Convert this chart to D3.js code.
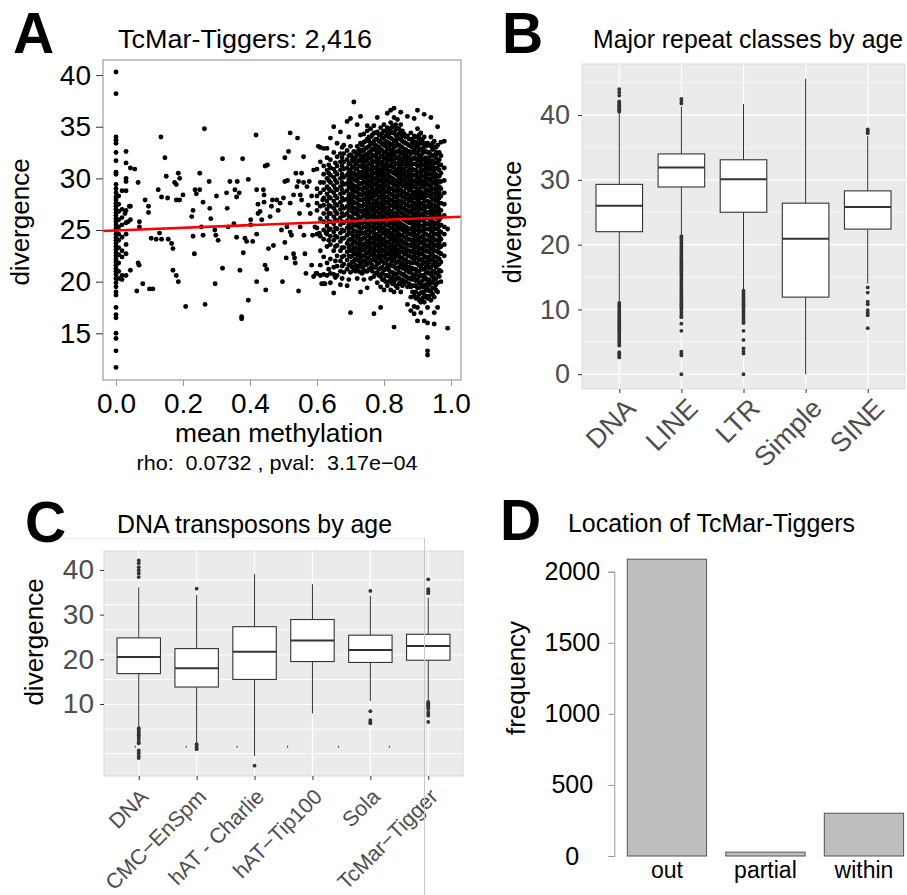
<!DOCTYPE html>
<html><head><meta charset="utf-8">
<script src="https://cdn.jsdelivr.net/npm/d3@7"></script>
<style>
body{margin:0;background:#fff}
svg text{font-family:"Liberation Sans",Arial,Helvetica,sans-serif}
</style>
</head><body>
<svg id="fig" width="907" height="895"></svg>
<script>
// ---------------- Panel A data: TcMar-Tiggers, mean methylation vs divergence ----------------
const aXTicks = [0, 0.2, 0.4, 0.6, 0.8, 1.0];
const aYTicks = [15, 20, 25, 30, 35, 40];
const aFit = [24.95, 1.3]; // intercept, slope of red regression line
// columns of points: [methylation, [divergence values]]
const aColumns = [
 [0.0,[40.3,38.2,34.0,33.7,33.4,32.5,31.7,30.6,30.4,29.4,29.0,28.6,28.2,27.9,27.6,27.3,27.0,26.7,26.4,26.1,25.8,25.5,25.2,24.9,24.6,24.3,24.0,23.7,23.4,23.1,22.8,22.5,22.2,21.9,21.6,21.3,21.0,20.7,20.3,19.9,19.5,19.0,18.7,17.5,16.8,16.5,15.0,14.5,13.3,11.7]],
 [0.008,[28.3,27.5,26.8,26.0,25.3,24.6,24.0,23.3,22.6,21.8,21.0,20.3]],
 [0.018,[28.8,27.0,26.2,25.5,24.3,23.0,22.4,20.6,20.2]],
 [0.03,[32.6,31.5,30.0,29.7,28.8,26.9,25.7,24.6,23.6,22.7,20.6]],
 [0.043,[31.0,27.3,26.0,21.1]],
 [0.60,[20.8,24.6,25.2,26.9,27.6,28.3,29.0,30.9]],
 [0.61,[20.6,21.6,23.0,24.4,26.1,27.3,28.6,29.6,31.6,33.0]],
 [0.62,[19.8,20.7,22.4,24.1,25.0,25.8,26.6,27.4,28.1,28.9,29.6,30.4,31.2,32.9]],
 [0.63,[20.6,21.8,23.4,24.6,25.4,26.2,27.0,27.8,28.5,29.2,30.0,30.8,32.0]],
 [0.635,[21.2,24.0,25.0,25.8,26.6,27.4,28.2,29.0,29.8,30.5,31.3]],
 [0.64,[19.9,20.8,22.2,23.6,24.4,25.1,25.8,26.6,27.3,28.1,28.8,29.6,30.3,31.0,31.8,33.9]],
 [0.65,[18.9,20.7,21.4,23.0,24.0,24.8,25.6,26.3,27.1,27.8,28.6,29.3,30.1,30.9,32.5,35.0]],
 [0.655,[20.4,22.0,23.4,24.4,25.2,26.0,26.8,27.5,28.3,29.0,29.8,30.6,31.5]],
 [0.66,[20.6,21.5,22.5,23.5,24.3,25.1,25.9,26.6,27.4,28.1,28.9,29.6,30.4,31.2,32.1,33.4]],
 [0.67,[19.7,21.0,22.0,23.0,23.9,24.7,25.5,26.2,27.0,27.7,28.5,29.2,30.0,30.8,31.6,32.4,34.5]],
 [0.675,[20.3,21.5,22.4,23.3,24.2,25.0,25.8,26.6,27.3,28.1,28.9,29.6,30.4,31.2,32.0,33.0]],
 [0.68,[20.9,21.7,22.5,23.3,24.2,24.9,25.7,26.4,27.1,27.9,28.6,29.4,30.1,30.9,31.6,32.4,33.2]],
 [0.69,[19.6,21.2,22.1,22.9,23.7,24.5,25.2,25.9,26.6,27.3,28.0,28.8,29.5,30.3,31.0,31.8,32.7,35.5]],
 [0.695,[20.2,21.6,22.5,23.3,24.0,24.8,25.5,26.3,27.0,27.7,28.4,29.2,29.9,30.6,31.4,32.2,34.0]],
 [0.70,[17.0,20.9,21.7,22.4,23.0,23.5,24.1,24.7,25.2,25.8,26.3,26.9,27.4,28.0,28.5,29.1,29.6,30.2,30.8,31.5,32.3,33.1,35.8]],
 [0.705,[21.4,21.9,22.5,23.0,23.6,24.1,24.6,25.2,25.7,26.2,26.8,27.3,27.8,28.4,28.9,29.4,30.0,30.5,31.1,31.7,32.1]],
 [0.71,[21.1,22.0,22.7,23.2,23.8,24.4,24.9,25.5,26.0,26.6,27.1,27.7,28.2,28.8,29.3,29.9,30.5,31.1,31.8,32.6,37.4]],
 [0.715,[21.0,21.6,22.2,22.8,23.3,23.9,24.4,24.9,25.5,26.0,26.6,27.1,27.6,28.2,28.7,29.2,29.8,30.3,30.9,31.4,32.0,32.5]],
 [0.72,[20.3,21.3,22.1,22.6,23.2,23.7,24.3,24.8,25.4,25.9,26.5,27.0,27.6,28.1,28.7,29.2,29.8,30.3,30.9,31.6,32.3,33.1,35.2]],
 [0.725,[21.0,21.5,22.0,22.6,23.1,23.7,24.2,24.7,25.3,25.8,26.3,26.9,27.4,27.9,28.5,29.0,29.5,30.1,30.6,31.2,31.7,32.3,32.8]],
 [0.73,[19.0,20.9,21.7,22.3,22.9,23.4,24.0,24.6,25.1,25.7,26.2,26.8,27.3,27.9,28.4,29.0,29.5,30.1,30.6,31.2,31.9,32.6,33.4,34.2,36.0]],
 [0.735,[20.8,21.4,22.0,22.5,23.1,23.6,24.1,24.7,25.2,25.7,26.3,26.8,27.3,27.9,28.4,28.9,29.5,30.0,30.5,31.1,31.6,32.2,32.7,33.2]],
 [0.74,[20.2,21.1,21.9,22.5,23.1,23.6,24.2,24.7,25.3,25.8,26.4,26.9,27.5,28.0,28.6,29.1,29.7,30.2,30.8,31.4,32.0,32.7,33.5,34.3]],
 [0.745,[21.0,21.6,22.1,22.7,23.2,23.7,24.3,24.8,25.3,25.9,26.4,26.9,27.5,28.0,28.5,29.1,29.6,30.1,30.7,31.2,31.8,32.3,32.9,33.6]],
 [0.75,[19.4,21.0,21.7,22.3,22.8,23.4,23.9,24.5,25.0,25.6,26.1,26.7,27.2,27.8,28.3,28.9,29.4,30.0,30.5,31.1,31.7,32.3,33.0,33.8,34.6,35.1]],
 [0.755,[21.2,21.8,22.3,22.9,23.4,23.9,24.5,25.0,25.5,26.1,26.6,27.1,27.7,28.2,28.7,29.3,29.8,30.3,30.9,31.4,32.0,32.5,33.1,33.6,34.0]],
 [0.76,[20.3,21.3,22.0,22.6,23.1,23.7,24.2,24.8,25.3,25.9,26.4,27.0,27.5,28.1,28.6,29.2,29.7,30.3,30.8,31.4,32.0,32.6,33.3,34.0,34.8]],
 [0.765,[21.0,21.6,22.1,22.6,23.2,23.7,24.2,24.8,25.3,25.8,26.4,26.9,27.4,28.0,28.5,29.0,29.6,30.1,30.6,31.2,31.7,32.3,32.8,33.4,34.2]],
 [0.77,[16.9,20.5,21.4,22.2,22.8,23.3,23.9,24.4,25.0,25.5,26.1,26.6,27.2,27.7,28.3,28.8,29.4,29.9,30.5,31.0,31.6,32.2,32.9,33.6,34.4,35.1]],
 [0.775,[20.8,21.4,22.0,22.5,23.0,23.6,24.1,24.6,25.2,25.7,26.2,26.8,27.3,27.8,28.4,28.9,29.4,30.0,30.5,31.0,31.6,32.1,32.7,33.2,33.8,34.4]],
 [0.78,[19.9,20.9,21.7,22.4,23.0,23.5,24.1,24.6,25.2,25.7,26.3,26.8,27.4,27.9,28.5,29.0,29.6,30.1,30.7,31.2,31.8,32.4,33.1,33.8,34.5,35.9]],
 [0.785,[20.6,21.2,21.8,22.3,22.8,23.4,23.9,24.4,25.0,25.5,26.0,26.6,27.1,27.6,28.2,28.7,29.2,29.8,30.3,30.8,31.4,31.9,32.5,33.0,33.6,34.2]],
 [0.79,[17.5,19.5,20.5,21.3,22.1,22.7,23.2,23.8,24.3,24.9,25.4,26.0,26.5,27.1,27.6,28.2,28.7,29.3,29.8,30.4,30.9,31.5,32.1,32.8,33.5,34.2,34.9]],
 [0.795,[20.2,20.8,21.4,22.0,22.5,23.1,23.6,24.1,24.7,25.2,25.7,26.3,26.8,27.3,27.9,28.4,28.9,29.5,30.0,30.5,31.1,31.6,32.2,32.7,33.3,33.9,34.4]],
 [0.80,[19.2,20.2,21.1,21.8,22.5,23.0,23.6,24.1,24.7,25.2,25.8,26.3,26.9,27.4,28.0,28.5,29.1,29.6,30.2,30.7,31.3,31.9,32.5,33.2,33.9,34.6,35.2]],
 [0.805,[20.0,20.6,21.2,21.8,22.3,22.9,23.4,23.9,24.5,25.0,25.5,26.1,26.6,27.1,27.7,28.2,28.7,29.3,29.8,30.3,30.9,31.4,32.0,32.5,33.1,33.6,34.1,34.6]],
 [0.81,[19.6,20.6,21.4,22.1,22.7,23.3,23.8,24.4,24.9,25.5,26.0,26.6,27.1,27.7,28.2,28.8,29.3,29.9,30.4,31.0,31.6,32.2,32.8,33.5,34.2,34.9,36.3]],
 [0.815,[20.0,20.5,21.1,21.6,22.2,22.7,23.2,23.8,24.3,24.8,25.4,25.9,26.4,27.0,27.5,28.0,28.6,29.1,29.6,30.2,30.7,31.2,31.8,32.3,32.9,33.4,34.0,34.4,34.8]],
 [0.82,[19.2,20.1,20.9,21.7,22.4,23.0,23.5,24.1,24.6,25.2,25.7,26.3,26.8,27.4,27.9,28.5,29.0,29.6,30.1,30.7,31.3,31.9,32.5,33.2,33.9,34.6,35.4,36.6]],
 [0.825,[19.8,20.4,20.9,21.5,22.0,22.6,23.1,23.6,24.2,24.7,25.2,25.8,26.3,26.8,27.4,27.9,28.4,29.0,29.5,30.0,30.6,31.1,31.6,32.2,32.7,33.3,33.8,34.4,35.0]],
 [0.83,[15.6,19.0,20.0,20.8,21.5,22.2,22.8,23.3,23.9,24.4,25.0,25.5,26.1,26.6,27.2,27.7,28.3,28.8,29.4,29.9,30.5,31.1,31.7,32.3,33.0,33.7,34.4,35.1,35.9,36.8]],
 [0.835,[19.6,20.2,20.7,21.3,21.8,22.4,22.9,23.4,24.0,24.5,25.0,25.6,26.1,26.6,27.2,27.7,28.2,28.8,29.3,29.8,30.4,30.9,31.4,32.0,32.5,33.1,33.6,34.2,34.7,35.2]],
 [0.84,[19.4,20.4,21.2,21.9,22.6,23.1,23.7,24.2,24.8,25.3,25.9,26.4,27.0,27.5,28.1,28.6,29.2,29.7,30.3,30.8,31.4,32.0,32.6,33.3,34.0,34.8,35.7]],
 [0.845,[19.8,20.3,20.9,21.4,22.0,22.5,23.0,23.6,24.1,24.6,25.2,25.7,26.2,26.8,27.3,27.8,28.4,28.9,29.4,30.0,30.5,31.0,31.6,32.1,32.7,33.2,33.8,34.3,34.8]],
 [0.85,[19.0,19.9,20.8,21.6,22.3,22.9,23.4,24.0,24.5,25.1,25.6,26.2,26.7,27.3,27.8,28.4,28.9,29.5,30.0,30.6,31.2,31.8,32.4,33.1,33.8,34.5,35.2,36.4]],
 [0.855,[19.6,20.2,20.7,21.3,21.8,22.3,22.9,23.4,23.9,24.5,25.0,25.5,26.1,26.6,27.1,27.7,28.2,28.7,29.3,29.8,30.3,30.9,31.4,31.9,32.5,33.0,33.6,34.1,34.6]],
 [0.86,[19.8,20.7,21.5,22.1,22.7,23.2,23.8,24.3,24.9,25.4,26.0,26.5,27.1,27.6,28.2,28.7,29.3,29.8,30.4,30.9,31.5,32.1,32.8,33.5,34.3]],
 [0.865,[20.0,20.5,21.1,21.6,22.1,22.7,23.2,23.7,24.3,24.8,25.3,25.9,26.4,26.9,27.5,28.0,28.5,29.1,29.6,30.1,30.7,31.2,31.7,32.3,32.8,33.4,34.0]],
 [0.87,[17.8,19.5,20.4,21.2,21.9,22.5,23.0,23.6,24.1,24.7,25.2,25.8,26.3,26.9,27.4,28.0,28.5,29.1,29.6,30.2,30.7,31.3,31.9,32.6,33.3,34.1,36.0]],
 [0.875,[19.8,20.3,20.9,21.4,21.9,22.5,23.0,23.5,24.1,24.6,25.1,25.7,26.2,26.7,27.3,27.8,28.3,28.9,29.4,29.9,30.5,31.0,31.5,32.1,32.6,33.2,33.8]],
 [0.88,[17.2,18.5,19.5,20.3,21.1,21.8,22.4,22.9,23.5,24.0,24.6,25.1,25.7,26.2,26.8,27.3,27.9,28.4,29.0,29.5,30.1,30.6,31.2,31.8,32.4,33.1,33.8,34.4]],
 [0.885,[19.0,19.6,20.2,20.7,21.3,21.8,22.3,22.9,23.4,23.9,24.5,25.0,25.5,26.1,26.6,27.1,27.7,28.2,28.7,29.3,29.8,30.3,30.9,31.4,31.9,32.5,33.0,33.5,33.8]],
 [0.89,[16.9,17.6,18.6,19.6,20.4,21.2,21.9,22.6,23.1,23.7,24.2,24.8,25.3,25.9,26.4,27.0,27.5,28.1,28.6,29.2,29.7,30.3,30.8,31.4,32.0,32.7,33.4,34.1,35.8]],
 [0.895,[18.4,19.0,19.6,20.1,20.7,21.2,21.8,22.3,22.8,23.4,23.9,24.4,25.0,25.5,26.0,26.6,27.1,27.6,28.2,28.7,29.2,29.8,30.3,30.8,31.4,31.9,32.4,33.0,33.5,34.0]],
 [0.90,[16.2,17.5,18.5,19.4,20.2,21.0,21.7,22.3,22.9,23.4,24.0,24.5,25.1,25.6,26.2,26.7,27.3,27.8,28.4,28.9,29.5,30.0,30.6,31.2,31.8,32.5,33.2,34.0,34.8,36.6]],
 [0.905,[18.2,18.8,19.4,19.9,20.5,21.0,21.6,22.1,22.6,23.2,23.7,24.2,24.8,25.3,25.8,26.4,26.9,27.4,28.0,28.5,29.0,29.6,30.1,30.6,31.2,31.7,32.2,32.8,33.3,33.8,34.2]],
 [0.91,[17.0,18.0,18.9,19.8,20.6,21.4,22.1,22.7,23.2,23.8,24.3,24.9,25.4,26.0,26.5,27.1,27.6,28.2,28.7,29.3,29.8,30.4,30.9,31.5,32.1,32.8,33.6,34.4]],
 [0.915,[18.4,19.0,19.5,20.1,20.6,21.2,21.7,22.2,22.8,23.3,23.8,24.4,24.9,25.4,26.0,26.5,27.0,27.6,28.1,28.6,29.2,29.7,30.2,30.8,31.3,31.8,32.4,32.9,33.4,33.8]],
 [0.92,[16.2,18.0,18.8,19.6,20.4,21.2,21.9,22.5,23.0,23.6,24.1,24.7,25.2,25.8,26.3,26.9,27.4,28.0,28.5,29.1,29.6,30.2,30.7,31.3,31.9,32.6,33.3,34.0,36.2]],
 [0.925,[18.6,19.2,19.7,20.3,20.8,21.4,21.9,22.4,23.0,23.5,24.0,24.6,25.1,25.6,26.2,26.7,27.2,27.8,28.3,28.8,29.4,29.9,30.4,31.0,31.5,32.0,32.6,33.1,33.4]],
 [0.93,[12.9,13.3,14.6,16.0,17.5,18.4,19.3,20.1,20.9,21.6,22.3,22.9,23.4,24.0,24.5,25.1,25.6,26.2,26.7,27.3,27.8,28.4,28.9,29.5,30.0,30.6,31.2,31.8,32.5,33.4]],
 [0.935,[18.6,19.1,19.7,20.2,20.8,21.3,21.9,22.4,22.9,23.5,24.0,24.5,25.1,25.6,26.1,26.7,27.2,27.7,28.3,28.8,29.3,29.9,30.4,30.9,31.5,32.0,32.5,33.2]],
 [0.94,[18.2,19.1,19.9,20.7,21.4,22.1,22.7,23.2,23.8,24.3,24.9,25.4,26.0,26.5,27.1,27.6,28.2,28.7,29.3,29.8,30.4,31.0,31.6,32.3,33.1,34.0,35.9]],
 [0.945,[18.8,19.4,19.9,20.5,21.0,21.6,22.1,22.6,23.2,23.7,24.2,24.8,25.3,25.8,26.4,26.9,27.4,28.0,28.5,29.0,29.6,30.1,30.6,31.2,31.7,32.2,32.8,33.4]],
 [0.95,[15.9,17.0,18.5,19.4,20.2,21.0,21.7,22.4,23.0,23.5,24.1,24.6,25.2,25.7,26.3,26.8,27.4,27.9,28.5,29.0,29.6,30.2,30.8,31.5,32.2,33.0,33.6]],
 [0.955,[19.2,19.7,20.3,20.8,21.4,21.9,22.4,23.0,23.5,24.0,24.6,25.1,25.6,26.2,26.7,27.2,27.8,28.3,28.8,29.4,29.9,30.4,31.0,31.5,32.0,32.5,33.0]],
 [0.96,[17.5,19.0,19.9,20.8,21.6,22.3,22.9,23.5,24.0,24.6,25.1,25.7,26.2,26.8,27.3,27.9,28.4,29.0,29.6,30.2,30.9,31.6,32.4,33.2,35.0]],
 [0.965,[20.5,21.1,21.7,22.2,22.8,23.3,23.8,24.4,24.9,25.4,26.0,26.5,27.0,27.6,28.1,28.6,29.2,29.7,30.2,30.8,31.3,31.8,32.5]],
 [0.97,[20.0,21.0,21.9,22.7,23.4,24.1,24.8,25.5,26.2,26.9,27.6,28.3,29.0,29.7,30.5,31.3,32.2,33.5]],
 [0.98,[22.5,23.6,24.6,25.3,26.4,27.5,28.6,29.8,31.0,33.6]],
 [0.99,[15.5,25.1]]
];
// individual scattered points: [methylation, divergence]
const aSparse = [
 [.056,30.9],[.066,29.6],[.04,27.3],[.027,26.6],[.036,25.8],[.07,25.8],[.07,25.3],[.066,21.8],[.069,21.6],[.062,19.1],
 [.08,19.8],[.087,27.9],[.097,27.3],[.097,26.7],[.10,19.3],[.11,19.3],[.105,24.2],[.12,24.1],[.126,28.9],[.134,34.0],
 [.136,28.2],[.13,24.7],[.136,24.1],[.146,32.0],[.15,30.2],[.154,28.1],[.156,24.1],[.166,23.7],[.17,23.2],[.17,21.1],
 [.18,20.6],[.186,20.0],[.175,29.6],[.18,29.4],[.186,30.5],[.19,30.0],[.18,27.9],[.19,27.9],[.20,28.4],[.208,17.6],
 [.226,26.3],[.23,24.4],[.234,22.7],[.23,26.9],[.236,28.9],[.24,28.5],[.25,28.9],[.25,30.5],[.26,27.7],[.255,25.3],
 [.26,24.5],[.264,34.8],[.266,17.8],[.278,29.7],[.28,27.1],[.283,26.1],[.295,25.0],[.298,24.5],[.296,19.8],[.305,24.0],
 [.30,28.3],[.318,31.9],[.318,21.3],[.33,28.6],[.332,27.1],[.34,29.7],[.335,25.3],[.352,25.6],[.355,28.9],[.36,28.2],
 [.362,29.7],[.368,28.6],[.36,24.3],[.37,21.1],[.375,16.6],[.375,16.4],[.378,31.9],[.38,22.8],[.385,24.2],[.39,23.9],
 [.395,29.9],[.395,18.2],[.402,26.0],[.402,25.5],[.408,23.9],[.418,34.2],[.42,20.0],[.42,28.9],[.424,27.5],[.424,26.6],
 [.42,24.6],[.43,26.8],[.435,26.0],[.44,28.9],[.442,28.4],[.442,27.7],[.445,31.2],[.45,21.2],[.445,21.6],[.447,19.2],
 [.452,31.3],[.455,23.2],[.46,26.3],[.464,27.3],[.467,27.9],[.47,23.5],[.48,27.9],[.484,26.9],[.49,27.6],[.494,25.0],
 [.497,20.0],[.50,28.1],[.504,29.7],[.504,23.8],[.508,22.3],[.504,32.0],[.51,25.3],[.512,29.8],[.515,32.6],[.52,34.4],
 [.52,27.6],[.52,24.8],[.524,24.5],[.53,28.4],[.53,22.7],[.533,22.3],[.535,21.8],[.537,30.5],[.54,29.2],[.542,33.9],
 [.545,19.1],[.545,29.7],[.548,26.6],[.55,28.4],[.55,25.3],[.554,30.5],[.554,27.9],[.56,32.1],[.56,29.6],[.561,24.5],
 [.564,22.7],[.567,20.8],[.57,29.2],[.574,27.4],[.577,29.7],[.58,26.6],[.584,28.3],[.584,21.6],[.587,24.5],[.59,30.8],
 [.59,20.5],[.594,25.3],[.597,20.8],[.604,33.1],[.607,24.7],[.614,19.8],[.617,27.9],[.624,19.8],[.627,24.7],[.63,32.9]
];

// ---------------- Panel B data: major repeat classes ----------------
const bCats = ["DNA", "LINE", "LTR", "Simple", "SINE"];
const bQ1  = [22.0, 28.9, 25.0, 11.9, 22.4];
const bMed = [26.0, 31.9, 30.1, 20.9, 25.8];
const bQ3  = [29.3, 34.0, 33.1, 26.4, 28.3];
const bLo  = [11.2, 21.6, 13.1, 0.0, 14.0];
const bHi  = [40.2, 41.3, 41.7, 45.6, 36.8];
const bOut = [
 [40.5,40.7,40.9,41.1,41.3,41.5,41.7,41.9,42.1,43.0,43.5,44.0,
  11.0,10.7,10.4,10.1,9.8,9.5,9.2,8.9,8.6,8.3,8.0,7.7,7.4,7.1,6.8,6.5,6.2,5.9,5.6,5.3,5.0,4.7,4.4,3.4,3.1,2.8,2.6],
 [41.8,42.2,42.5,
  21.3,21.0,20.7,20.4,20.1,19.8,19.5,19.2,18.9,18.6,18.3,18.0,17.7,17.4,17.1,16.8,16.5,16.2,15.9,15.6,15.3,15.0,14.7,14.4,
  14.1,13.8,13.5,13.2,12.9,12.6,12.3,12.0,11.7,11.4,11.1,10.8,10.5,10.2,9.9,9.6,9.3,9.0,8.8,7.8,6.7,3.5,3.2,2.9,0.0],
 [12.9,12.6,12.3,12.0,11.7,11.4,11.1,10.8,10.5,10.2,9.9,9.6,9.3,9.0,8.7,8.4,8.1,7.9,6.7,5.3,4.0,3.6,3.2,0.0],
 [],
 [37.2,37.5,37.8,13.4,12.6,11.2,10.8,9.9,9.5,9.1,7.1]
];
const bYTicks = [0, 10, 20, 30, 40];
const bYMinor = [5, 15, 25, 35, 45];

// ---------------- Panel C data: DNA transposons ----------------
const cCats = ["DNA", "CMC\u2212EnSpm", "hAT - Charlie", "hAT\u2212Tip100", "Sola", "TcMar\u2212Tigger"];
const cQ1  = [16.8, 13.8, 15.5, 19.5, 19.3, 19.8];
const cMed = [20.5, 18.0, 21.7, 24.2, 22.1, 23.0];
const cQ3  = [24.8, 22.4, 27.3, 28.9, 25.4, 25.6];
const cLo  = [4.9, 1.2, -1.6, 7.9, 10.7, 10.9];
const cHi  = [36.1, 34.4, 39.1, 36.8, 34.2, 33.8];
const cOut = [
 [42.1,41.5,40.6,39.9,39.2,38.4,4.6,4.2,3.8,3.4,3.0,2.6,2.2,1.6,1.2,-0.4,-1.0,-1.6,-2.1],
 [35.8,1.0,0.6,0.2,-0.1],
 [-3.8],
 [],
 [35.3,8.4,6.4,6.0,5.7],
 [37.9,35.7,35.2,34.8,10.5,10.2,9.9,9.6,9.3,8.9,8.2,7.8,7.4,6.0]
];
const cYTicks = [10, 20, 30, 40];
const cGrid = [37.7, 32.2, 26.6, 21.0, 15.5, 9.9, 4.4, -1.1];
const cStray = [-0.06, 0.82, 1.70, 2.57, 3.45, 4.33]; // tiny marks at category-index positions
const cStrayY = 0.45;

// ---------------- Panel D data: location of TcMar-Tiggers ----------------
const dCats = ["out", "partial", "within"];
const dVals = [2088, 27, 301];
const dYTicks = [0, 500, 1000, 1500, 2000];

// =====================================================================
const svg = d3.select("#fig");
const BOXC = "#333333";

function panelLetter(t, x, y) {
  svg.append("text").attr("x", x).attr("y", y).text(t)
    .attr("font-size", 57).attr("font-weight", "bold").attr("fill", "#000");
}
function txt(t, x, y, size, opts = {}) {
  const e = svg.append("text").attr("x", x).attr("y", y).text(t)
    .attr("font-size", size).attr("fill", opts.fill || "#000")
    .attr("text-anchor", opts.anchor || "start");
  if (opts.len) e.attr("textLength", opts.len).attr("lengthAdjust", "spacingAndGlyphs");
  if (opts.rot) e.attr("transform", `rotate(${opts.rot},${x},${y})`);
  if (opts.pre) e.attr("xml:space", "preserve").style("white-space", "pre");
  return e;
}

// ---------------- Panel A ----------------
{
  const x = d3.scaleLinear().domain([-0.0388, 1.0299]).range([103, 461]);
  const y = d3.scaleLinear().domain([10.48, 41.46]).range([380, 60]);
  const g = svg.append("g");
  const pts = [];
  aColumns.forEach(([m, ds]) => ds.forEach(d => pts.push([m, d])));
  aSparse.forEach(p => pts.push(p));
  g.selectAll("circle").data(pts).join("circle")
    .attr("cx", d => x(d[0])).attr("cy", d => y(d[1])).attr("r", 2.45).attr("fill", "#000");
  const [x0, x1] = x.domain();
  g.append("line").attr("x1", x(x0)).attr("x2", x(x1))
    .attr("y1", y(aFit[0] + aFit[1] * x0)).attr("y2", y(aFit[0] + aFit[1] * x1))
    .attr("stroke", "#ff0000").attr("stroke-width", 2.6);
  g.append("rect").attr("x", 103).attr("y", 60).attr("width", 358).attr("height", 320)
    .attr("fill", "none").attr("stroke", "#8a8a8a").attr("stroke-width", 1);
  const ya = g.append("g").attr("transform", "translate(103,0)")
    .call(d3.axisLeft(y).tickValues(aYTicks).tickSize(7).tickPadding(5));
  ya.select(".domain").remove();
  ya.selectAll("line").attr("stroke", "#333");
  ya.selectAll("text").attr("font-size", 28).attr("fill", "#000").attr("font-family", null);
  const xa = g.append("g").attr("transform", "translate(0,380)")
    .call(d3.axisBottom(x).tickValues(aXTicks).tickFormat(d3.format(".1f")).tickSize(6).tickPadding(7));
  xa.select(".domain").remove();
  xa.selectAll("line").attr("stroke", "#999");
  xa.selectAll("text").attr("font-size", 28).attr("fill", "#000").attr("font-family", null);
  panelLetter("A", 13, 53);
  txt("TcMar-Tiggers: 2,416", 245, 48, 26, {anchor: "middle", len: 254});
  txt("divergence", 29, 222, 26, {anchor: "middle", rot: -90});
  txt("mean methylation", 279, 442, 26, {anchor: "middle", len: 208});
  txt("rho:  0.0732 , pval:  3.17e\u221204", 277, 470, 21, {anchor: "middle", pre: true, len: 281});
}

// ---------------- Box plot helper ----------------
function drawBoxes(g, x, y, cats, q1, med, q3, lo, hi, outs) {
  const w = x.step() * 0.75;
  const rows = cats.map((c, i) => ({c, q1: q1[i], med: med[i], q3: q3[i], lo: lo[i], hi: hi[i], out: outs[i]}));
  const b = g.selectAll("g.box").data(rows).join("g").attr("class", "box");
  b.append("line").attr("x1", d => x(d.c)).attr("x2", d => x(d.c))
    .attr("y1", d => y(d.hi)).attr("y2", d => y(d.q3)).attr("stroke", BOXC).attr("stroke-width", 1);
  b.append("line").attr("x1", d => x(d.c)).attr("x2", d => x(d.c))
    .attr("y1", d => y(d.q1)).attr("y2", d => y(d.lo)).attr("stroke", BOXC).attr("stroke-width", 1);
  b.append("rect").attr("x", d => x(d.c) - w / 2).attr("y", d => y(d.q3))
    .attr("width", w).attr("height", d => y(d.q1) - y(d.q3))
    .attr("fill", "#fff").attr("stroke", BOXC).attr("stroke-width", 1.1);
  b.append("line").attr("x1", d => x(d.c) - w / 2).attr("x2", d => x(d.c) + w / 2)
    .attr("y1", d => y(d.med)).attr("y2", d => y(d.med)).attr("stroke", BOXC).attr("stroke-width", 2);
  b.selectAll("circle").data(d => d.out.map(v => ({c: d.c, v}))).join("circle")
    .attr("cx", d => x(d.c)).attr("cy", d => y(d.v)).attr("r", 1.9).attr("fill", BOXC);
}

// ---------------- Panel B ----------------
{
  const L = 582, R = 905, T = 64, B = 389;
  const x = d3.scalePoint().domain(bCats).range([L, R]).padding(0.6);
  const y = d3.scaleLinear().domain([-2.28, 47.88]).range([B, T]);
  const g = svg.append("g");
  g.append("rect").attr("x", L).attr("y", T).attr("width", R - L).attr("height", B - T)
    .attr("fill", "#ebebeb").attr("stroke", "#d6d6d6").attr("stroke-width", 0.8);
  g.selectAll("line.mi").data(bYMinor).join("line").attr("class", "mi")
    .attr("x1", L).attr("x2", R).attr("y1", d => y(d)).attr("y2", d => y(d))
    .attr("stroke", "#fff").attr("stroke-width", 0.6);
  g.selectAll("line.ma").data(bYTicks).join("line").attr("class", "ma")
    .attr("x1", L).attr("x2", R).attr("y1", d => y(d)).attr("y2", d => y(d))
    .attr("stroke", "#fff").attr("stroke-width", 1.2);
  g.selectAll("line.vx").data(bCats).join("line").attr("class", "vx")
    .attr("x1", d => x(d)).attr("x2", d => x(d)).attr("y1", T).attr("y2", B)
    .attr("stroke", "#fff").attr("stroke-width", 1.2);
  drawBoxes(g.append("g"), x, y, bCats, bQ1, bMed, bQ3, bLo, bHi, bOut);
  const ya = g.append("g").attr("transform", `translate(${L},0)`)
    .call(d3.axisLeft(y).tickValues(bYTicks).tickSize(4).tickPadding(8));
  ya.select(".domain").remove();
  ya.selectAll("line").attr("stroke", "#333");
  ya.selectAll("text").attr("font-size", 27).attr("fill", "#4d4d4d").attr("font-family", null);
  const xa = g.append("g").attr("transform", `translate(0,${B})`)
    .call(d3.axisBottom(x).tickSize(4).tickFormat(""));
  xa.select(".domain").remove();
  xa.selectAll("line").attr("stroke", "#333");
  bCats.forEach(c => txt(c, x(c) + 18, 410, 27, {anchor: "end", rot: -45, fill: "#4d4d4d"}));
  panelLetter("B", 502, 53);
  txt("Major repeat classes by age", 593, 48, 25, {len: 310});
  txt("divergence", 521, 222, 25, {anchor: "middle", rot: -90});
}

// ---------------- Panel C ----------------
{
  const L = 104, R = 463, T = 551, B = 776;
  svg.append("line").attr("x1", 62).attr("x2", 424).attr("y1", 538.5).attr("y2", 538.5)
    .attr("stroke", "#f0f0f0").attr("stroke-width", 1);
  const x = d3.scalePoint().domain(cCats).range([L, R]).padding(0.6);
  const y = d3.scaleLinear().domain([-6.1, 44.23]).range([B, T]);
  const g = svg.append("g");
  g.append("rect").attr("x", L).attr("y", T).attr("width", R - L).attr("height", B - T)
    .attr("fill", "#ebebeb").attr("stroke", "#d0d0d0").attr("stroke-width", 0.8);
  g.selectAll("line.gr").data(cGrid).join("line").attr("class", "gr")
    .attr("x1", L).attr("x2", R).attr("y1", d => y(d)).attr("y2", d => y(d))
    .attr("stroke", "#fff").attr("stroke-width", 1);
  g.selectAll("line.vx").data(cCats).join("line").attr("class", "vx")
    .attr("x1", d => x(d)).attr("x2", d => x(d)).attr("y1", T).attr("y2", B)
    .attr("stroke", "#fff").attr("stroke-width", 1.2);
  const xi = d3.scaleLinear().domain([0, cCats.length - 1]).range([x(cCats[0]), x(cCats[cCats.length - 1])]);
  g.selectAll("rect.stray").data(cStray).join("rect").attr("class", "stray")
    .attr("x", d => xi(d) - 0.6).attr("y", y(cStrayY) - 1).attr("width", 1.2).attr("height", 2)
    .attr("fill", "#555");
  drawBoxes(g.append("g"), x, y, cCats, cQ1, cMed, cQ3, cLo, cHi, cOut);
  const ya = g.append("g").attr("transform", `translate(${L},0)`)
    .call(d3.axisLeft(y).tickValues(cYTicks).tickSize(4).tickPadding(6));
  ya.select(".domain").remove();
  ya.selectAll("line").attr("stroke", "#333");
  ya.selectAll("text").attr("font-size", 28).attr("fill", "#4d4d4d").attr("font-family", null);
  const xa = g.append("g").attr("transform", `translate(0,${B})`)
    .call(d3.axisBottom(x).tickSize(4).tickFormat(""));
  xa.select(".domain").remove();
  xa.selectAll("line").attr("stroke", "#333");
  cCats.forEach(c => txt(c, x(c) + 11, 798, 21.5, {anchor: "end", rot: -45, fill: "#4d4d4d"}));
  svg.append("line").attr("x1", 424.5).attr("x2", 424.5).attr("y1", 538).attr("y2", 895)
    .attr("stroke", "#c8c8c8").attr("stroke-width", 1);
  panelLetter("C", 25, 542);
  txt("DNA transposons by age", 117, 533, 26, {len: 275});
  txt("divergence", 43, 642, 26, {anchor: "middle", rot: -90});
}

// ---------------- Panel D ----------------
{
  const x = d3.scaleBand().domain(dCats).range([627.3, 903.6]).paddingInner(0.195).paddingOuter(0);
  const y = d3.scaleLinear().domain([0, 2000]).range([856, 571.7]);
  const g = svg.append("g");
  g.selectAll("rect.bar").data(dCats).join("rect").attr("class", "bar")
    .attr("x", d => x(d)).attr("width", x.bandwidth())
    .attr("y", (d, i) => y(dVals[i])).attr("height", (d, i) => y(0) - y(dVals[i]))
    .attr("fill", "#bebebe").attr("stroke", "#555").attr("stroke-width", 1);
  const ya = g.append("g").attr("transform", "translate(614.3,0)")
    .call(d3.axisLeft(y).tickValues(dYTicks).tickFormat(d3.format("d")).tickSize(6).tickPadding(10));
  ya.select(".domain").attr("stroke", "#999");
  ya.selectAll("line").attr("stroke", "#999");
  ya.selectAll("text").attr("font-size", 25).attr("fill", "#000").attr("font-family", null)
    .attr("text-anchor", "middle").attr("x", -42);
  dCats.forEach(c => txt(c, x(c) + x.bandwidth() / 2, 878, 23, {anchor: "middle"}));
  panelLetter("D", 500, 540);
  txt("Location of TcMar-Tiggers", 568, 532, 26, {len: 287});
  txt("frequency", 525, 678, 26, {anchor: "middle", rot: -90});
}
</script>
</body></html>
